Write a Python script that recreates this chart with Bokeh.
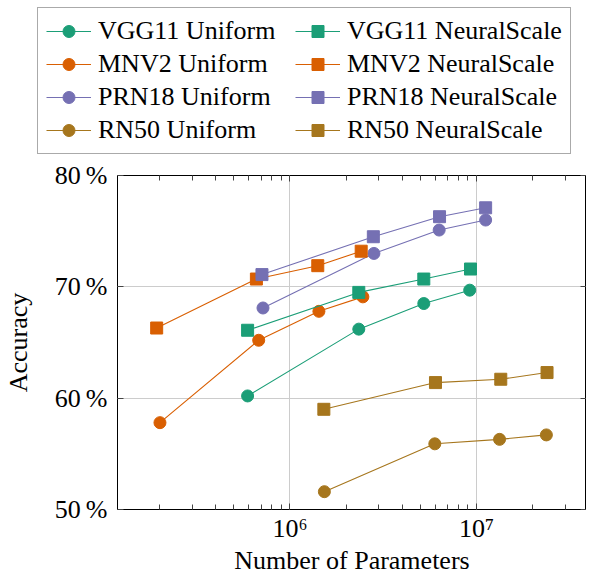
from bokeh.plotting import figure
from bokeh.layouts import column
from bokeh.models import (Legend, LegendItem, FixedTicker, LinearAxis, LogAxis,
                          Range1d)
from bokeh.embed import file_html
from bokeh.resources import INLINE

# ---- data ----
vgg_u_x = [5.93e5, 2.34e6, 5.22e6, 9.2e6]
vgg_u_y = [60.2, 66.2, 68.5, 69.7]
vgg_ns_x = [5.93e5, 2.34e6, 5.22e6, 9.29e6]
vgg_ns_y = [66.1, 69.5, 70.7, 71.6]

mnv2_u_x = [2.01e5, 6.8e5, 1.43e6, 2.46e6]
mnv2_u_y = [57.8, 65.2, 67.8, 69.1]
mnv2_ns_x = [1.93e5, 6.61e5, 1.41e6, 2.41e6]
mnv2_ns_y = [66.3, 70.7, 71.9, 73.2]

prn_u_x = [7.17e5, 2.82e6, 6.31e6, 1.12e7]
prn_u_y = [68.1, 73.0, 75.1, 76.0]
prn_ns_x = [7.08e5, 2.80e6, 6.34e6, 1.12e7]
prn_ns_y = [71.1, 74.5, 76.3, 77.1]

rn_u_x = [1.53e6, 5.98e6, 1.33e7, 2.37e7]
rn_u_y = [51.6, 55.9, 56.3, 56.7]
rn_ns_x = [1.52e6, 6.03e6, 1.35e7, 2.39e7]
rn_ns_y = [59.0, 61.4, 61.7, 62.3]

y_ticks = [50, 60, 70, 80]
y_tick_labels = ["50\u2009%", "60\u2009%", "70\u2009%", "80\u2009%"]
x_ticks = [1e6, 1e7]
x_tick_labels = ["10\u2076", "10\u2077"]
x_minor = [2e5, 3e5, 4e5, 5e5, 6e5, 7e5, 8e5, 9e5,
           2e6, 3e6, 4e6, 5e6, 6e6, 7e6, 8e6, 9e6,
           2e7, 3e7]

series = [
    ("VGG11 Uniform", vgg_u_x, vgg_u_y, "#1b9e77", "circle"),
    ("MNV2 Uniform", mnv2_u_x, mnv2_u_y, "#d95f02", "circle"),
    ("PRN18 Uniform", prn_u_x, prn_u_y, "#7570b3", "circle"),
    ("RN50 Uniform", rn_u_x, rn_u_y, "#a6761d", "circle"),
    ("VGG11 NeuralScale", vgg_ns_x, vgg_ns_y, "#1b9e77", "square"),
    ("MNV2 NeuralScale", mnv2_ns_x, mnv2_ns_y, "#d95f02", "square"),
    ("PRN18 NeuralScale", prn_ns_x, prn_ns_y, "#7570b3", "square"),
    ("RN50 NeuralScale", rn_ns_x, rn_ns_y, "#a6761d", "square"),
]

FONT = "Liberation Serif"
TOTAL_W = 584


def no_frame_align(fig):
    if "frame_align" in fig.properties():
        fig.frame_align = False


# ---------------- main plot ----------------
p = figure(frame_width=469, frame_height=334, x_axis_type="log",
           x_range=Range1d(1.19e5, 3.89e7), y_range=Range1d(50, 80),
           output_backend="svg", toolbar_location=None,
           min_border_left=0, min_border_right=0,
           min_border_top=16, min_border_bottom=0)
no_frame_align(p)
p.outline_line_color = "black"
p.outline_line_width = 1
p.background_fill_color = "white"
p.border_fill_color = "white"

xt = FixedTicker(ticks=x_ticks, minor_ticks=x_minor)
yt = FixedTicker(ticks=y_ticks, minor_ticks=[])


def style_axis(ax, ticker, ticks, labels):
    ax.ticker = ticker
    ax.axis_line_color = None
    ax.major_tick_in = 6
    ax.major_tick_out = 0
    ax.minor_tick_in = 5
    ax.minor_tick_out = 0
    ax.major_tick_line_color = "#444444"
    ax.minor_tick_line_color = "#444444"
    ax.major_label_text_font = FONT
    ax.major_label_text_color = "black"
    ax.axis_label_text_font = FONT
    ax.axis_label_text_font_style = "normal"
    ax.axis_label_text_color = "black"
    ax.major_label_overrides = {t: l for t, l in zip(ticks, labels)}


# bottom axis
xa = p.xaxis[0]
style_axis(xa, xt, x_ticks, x_tick_labels)
xa.major_label_text_font_size = "26px"
xa.major_label_standoff = 4
xa.axis_label = "Number of Parameters"
xa.axis_label_text_font_size = "26px"
xa.axis_label_standoff = 0

# left axis
ya = p.yaxis[0]
style_axis(ya, yt, y_ticks, y_tick_labels)
ya.major_label_text_font_size = "26px"
ya.major_label_standoff = 10
ya.axis_label = "Accuracy"
ya.axis_label_text_font_size = "26px"
ya.axis_label_standoff = 19

# mirrored axes (ticks only)
top_ax = LogAxis()
style_axis(top_ax, xt, x_ticks, ["", ""])
top_ax.major_label_text_font_size = "1px"
top_ax.major_label_standoff = 0
p.add_layout(top_ax, "above")
right_ax = LinearAxis()
style_axis(right_ax, yt, y_ticks, ["", "", "", ""])
right_ax.major_label_text_font_size = "1px"
right_ax.major_label_standoff = 0
p.add_layout(right_ax, "right")

p.xgrid.ticker = xt
p.ygrid.ticker = yt
p.xgrid.grid_line_color = "#cccccc"
p.ygrid.grid_line_color = "#cccccc"

for name, xs, ys, col, mk in series:
    p.line(xs, ys, line_color=col, line_width=1.1)
    p.scatter(xs, ys, marker=mk, size=12, fill_color=col, line_color=col)

# ---------------- legend panel ----------------
# the series are drawn here far outside the visible range; they only feed
# the legend glyphs
leg = figure(width=TOTAL_W, height=159, x_range=Range1d(0, 1),
             y_range=Range1d(0, 1), output_backend="svg",
             toolbar_location=None, min_border=0,
             x_axis_location=None, y_axis_location=None)
no_frame_align(leg)
leg.grid.visible = False
leg.outline_line_color = None

items = []
for name, xs, ys, col, mk in series:
    ln = leg.line(xs, ys, line_color=col, line_width=1.1)
    sc = leg.scatter(xs, ys, marker=mk, size=12, fill_color=col,
                     line_color=col)
    items.append(LegendItem(label=name, renderers=[ln, sc]))

legend = Legend(items=items, ncols=2, location=(37, 5),
                label_text_font=FONT, label_text_font_size="26px",
                label_text_color="black",
                glyph_width=45, glyph_height=30, label_standoff=7,
                label_height=30, label_width=194, spacing=3, padding=8,
                margin=0, border_line_color="#555555", border_line_width=1,
                background_fill_color="white", background_fill_alpha=1)
leg.add_layout(legend, "center")

layout = column(leg, p, spacing=0)
open("out.html", "w").write(file_html(layout, INLINE))
